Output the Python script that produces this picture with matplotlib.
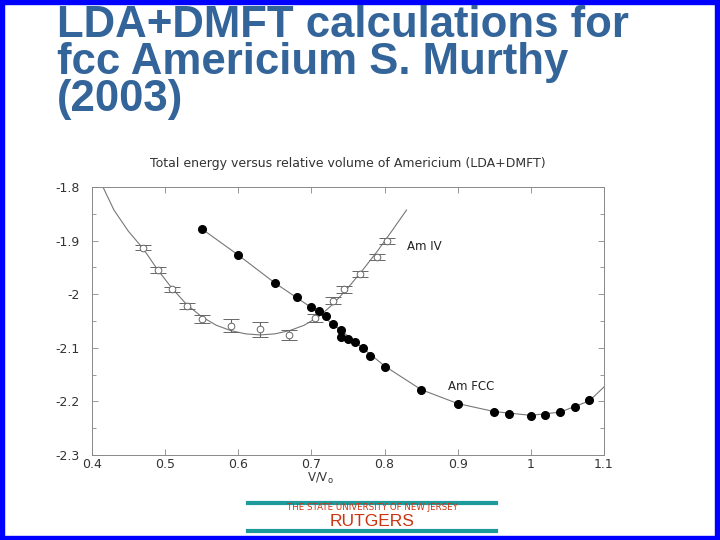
import numpy as np
import matplotlib
matplotlib.use("Agg")
import matplotlib.pyplot as plt
from matplotlib.patches import Rectangle
from matplotlib.lines import Line2D

# Am FCC (gefuellte Punkte)
fcc_v = [0.55, 0.60, 0.65, 0.68, 0.70, 0.71, 0.72, 0.73, 0.74, 0.74, 0.75, 0.76,
         0.77, 0.78, 0.80, 0.85, 0.90, 0.95, 0.97, 1.00, 1.02, 1.04, 1.06, 1.08]
fcc_e = [-1.878, -1.927, -1.979, -2.006, -2.024, -2.031, -2.040, -2.055, -2.067, -2.080, -2.083, -2.090,
         -2.101, -2.115, -2.136, -2.179, -2.204, -2.219, -2.224, -2.227, -2.225, -2.220, -2.211, -2.198]

# Kurve durch FCC
fcc_fit_v = [0.55, 0.60, 0.65, 0.70, 0.75, 0.80, 0.85, 0.90, 0.95, 1.00, 1.04, 1.08, 1.10]
fcc_fit_e = [-1.878, -1.927, -1.979, -2.025, -2.078, -2.134, -2.178, -2.204, -2.219, -2.226, -2.220, -2.199, -2.173]

# Am IV (offene Kreise mit Fehlerbalken)
iv_v = [0.47, 0.49, 0.51, 0.53, 0.55, 0.59, 0.63, 0.67, 0.705, 0.73, 0.745, 0.767, 0.789, 0.804]
iv_e = [-1.913, -1.955, -1.991, -2.022, -2.046, -2.059, -2.065, -2.076, -2.044, -2.012, -1.991, -1.962, -1.931, -1.901]
iv_err = [0.005, 0.005, 0.005, 0.005, 0.008, 0.012, 0.014, 0.009, 0.007, 0.006, 0.006, 0.006, 0.006, 0.005]

# Kurve durch Am IV
iv_fit_v = [0.415, 0.43, 0.45, 0.47, 0.49, 0.51, 0.53, 0.55, 0.57, 0.59, 0.61, 0.63, 0.65,
            0.67, 0.69, 0.71, 0.73, 0.75, 0.77, 0.79, 0.81, 0.83]
iv_fit_e = [-1.800, -1.843, -1.883, -1.915, -1.955, -1.990, -2.020, -2.042, -2.058, -2.068, -2.074, -2.076, -2.074,
            -2.068, -2.058, -2.042, -2.018, -1.988, -1.955, -1.920, -1.882, -1.843]

y_ticks = [-2.3, -2.2, -2.1, -2.0, -1.9, -1.8]
y_labels = ["-2.3", "-2.2", "-2.1", "-2", "-1.9", "-1.8"]
x_ticks = [0.4, 0.5, 0.6, 0.7, 0.8, 0.9, 1.0, 1.1]
x_labels = ["0.4", "0.5", "0.6", "0.7", "0.8", "0.9", "1", "1.1"]

W, H = 720, 540
fig = plt.figure(figsize=(7.2, 5.4), dpi=100)
fig.patch.set_facecolor("white")

# blauer Rahmen
blue = "#0000ff"
fig.add_artist(Rectangle((0, 0), 1, 4 / H, transform=fig.transFigure, color=blue))
fig.add_artist(Rectangle((0, 1 - 4 / H), 1, 4 / H, transform=fig.transFigure, color=blue))
fig.add_artist(Rectangle((0, 0), 4 / W, 1, transform=fig.transFigure, color=blue))
fig.add_artist(Rectangle((1 - 5 / W, 0), 5 / W, 1, transform=fig.transFigure, color=blue))

# Folientitel
fig.text(57 / W, 1 - 5 / H, "LDA+DMFT calculations for\nfcc Americium S. Murthy\n(2003)",
         ha="left", va="top", fontsize=31.5, fontweight="bold", color="#34659a",
         family=["Liberation Sans Narrow", "Liberation Sans", "DejaVu Sans"], linespacing=0.88)

ax = fig.add_axes([92 / W, 1 - 455 / H, 512 / W, 268 / H])
ax.plot(iv_fit_v, iv_fit_e, color="#777777", lw=0.8)
ax.plot(fcc_fit_v, fcc_fit_e, color="#777777", lw=0.8)
ax.errorbar(iv_v, iv_e, yerr=iv_err, fmt="o", mfc="white", mec="#666666", ms=4.8, mew=0.7,
            ecolor="#666666", elinewidth=0.8, capsize=5.5, capthick=0.8)
ax.plot(fcc_v, fcc_e, "o", color="black", ms=5.5)

ax.text(0.83, -1.911, "Am IV", fontsize=8.5, color="#222222", va="center")
ax.text(0.887, -2.173, "Am FCC", fontsize=8.5, color="#222222", va="center")

ax.set_xlim(0.4, 1.1)
ax.set_ylim(-2.3, -1.8)
ax.set_xticks(x_ticks)
ax.set_xticklabels(x_labels)
ax.set_yticks(y_ticks)
ax.set_yticklabels(y_labels)
ax.set_yticks(np.arange(-2.25, -1.8, 0.1), minor=True)
ax.tick_params(which="both", direction="in", top=True, right=True, color="#888888",
               labelsize=9, labelcolor="#333333", width=0.6)
ax.tick_params(which="major", length=4)
ax.tick_params(which="minor", length=3)
ax.tick_params(axis="y", pad=9)
ax.tick_params(axis="x", pad=2)
for s in ax.spines.values():
    s.set_color("#888888")
    s.set_linewidth(0.7)

fig.text(348 / W, 1 - 163 / H, "Total energy versus relative volume of Americium (LDA+DMFT)",
         ha="center", va="center", fontsize=9, color="#333333")
fig.text(320 / W, 1 - 478 / H, r"V/V$_\mathrm{o}$", ha="center", va="center",
         fontsize=8.5, color="#333333")

# Rutgers-Logo
teal = "#1f9a9a"
fig.add_artist(Line2D([248 / W, 496 / W], [1 - 503 / H, 1 - 503 / H], transform=fig.transFigure,
                      color=teal, lw=3))
fig.add_artist(Line2D([248 / W, 496 / W], [1 - 531 / H, 1 - 531 / H], transform=fig.transFigure,
                      color=teal, lw=3))
fig.text(372 / W, 1 - 508 / H, "THE STATE UNIVERSITY OF NEW JERSEY", ha="center", va="center",
         fontsize=6.2, color="#cc3311")
fig.text(372 / W, 1 - 521.5 / H, "RUTGERS", ha="center", va="center", fontsize=12.5,
         color="#cc3311", family=["Liberation Sans", "DejaVu Sans"])

fig.savefig("out.png", dpi=100)
